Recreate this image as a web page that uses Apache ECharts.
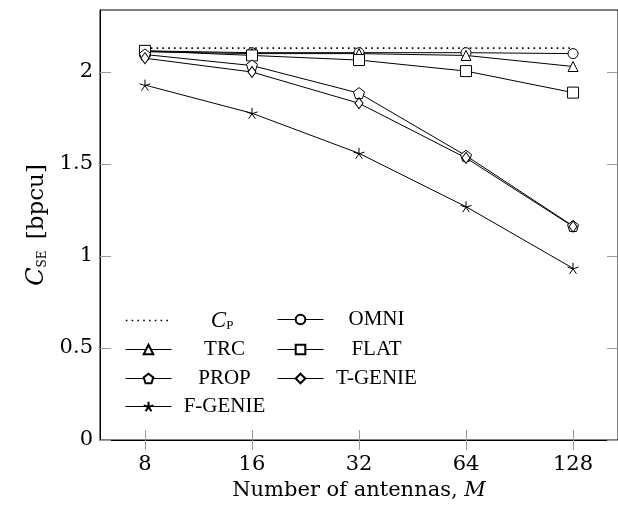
<!DOCTYPE html>
<html>
<head>
<meta charset="utf-8">
<script src="https://cdn.jsdelivr.net/npm/echarts@6/dist/echarts.min.js"></script>
<style>
  html, body { margin: 0; padding: 0; background: #fff; }
  #chart { width: 618px; height: 506px; }
</style>
</head>
<body>
<div id="chart"></div>
<script>
// antenna counts (x axis, log2 spaced)
const antennas = [8, 16, 32, 64, 128];
const yTicks = [0, 0.5, 1, 1.5, 2];

// C_SE values
const cp     = [2.13, 2.13, 2.13, 2.13, 2.13];
const omni   = [2.115, 2.105, 2.105, 2.105, 2.10];
const trc    = [2.11, 2.10, 2.10, 2.09, 2.03];
const flat   = [2.115, 2.09, 2.065, 2.005, 1.888];
const prop   = [2.095, 2.035, 1.885, 1.545, 1.163];
const tgenie = [2.075, 2.0, 1.83, 1.533, 1.16];
const fgenie = [1.929, 1.776, 1.558, 1.268, 0.933];

const xPos = antennas.map(m => Math.log2(m));
const pts = vals => vals.map((v, i) => [xPos[i], v]);

const FONT = "Liberation Serif";    // legend (Times-like)
const AFONT = "DejaVu Serif";       // axes (wide, CM-like)
const PENTAGON = "path://M0,-1L0.951,-0.309L0.588,0.809L-0.588,0.809L-0.951,-0.309Z";
const STAR = "path://M0,0L0,-1M0,0L0.951,-0.309M0,0L0.588,0.809M0,0L-0.588,0.809M0,0L-0.951,-0.309";

function mkLine(name, vals, symbol, size) {
  return {
    name: name,
    type: "line",
    data: pts(vals),
    symbol: symbol,
    symbolSize: size,
    showSymbol: true,
    lineStyle: { color: "#000", width: 1 },
    itemStyle: { color: symbol === STAR ? "#000" : "#fff", borderColor: "#000", borderWidth: 1 },
    animation: false
  };
}

const series = [
  {
    name: "CP", type: "line", data: pts(cp), symbol: "circle", showSymbol: false,
    lineStyle: { color: "#000", width: 1.6, type: [1.6, 4.2] },
    itemStyle: { color: "rgba(0,0,0,0)", borderWidth: 0 }, animation: false
  },
  mkLine("OMNI", omni, "circle", 10),
  mkLine("TRC", trc, "triangle", 10),
  mkLine("FLAT", flat, "rect", 11),
  mkLine("PROP", prop, PENTAGON, 11),
  mkLine("T-GENIE", tgenie, "diamond", [8, 11]),
  mkLine("F-GENIE", fgenie, STAR, 11)
];

const legendRich = {
  t: { width: 96, align: "center", fontFamily: FONT, fontSize: 21, color: "#000" },
  pad: { width: 34 },
  i: { fontFamily: FONT, fontStyle: "italic", fontSize: 23, color: "#000" },
  s: { fontFamily: FONT, fontSize: 13, color: "#000", padding: [11, 0, 0, 0] }
};
function legendItem(name, left, top) {
  return {
    show: true, data: [name], left: left, top: top,
    itemWidth: 46, itemHeight: 12, itemGap: 0, padding: 0,
    selectedMode: false,
    lineStyle: { width: name === "CP" ? 1.6 : 1 },
    formatter: n => n === "CP" ? "{pad|}{i|C}{s|P}" : "{t|" + n + "}",
    textStyle: { rich: legendRich, fontFamily: FONT, fontSize: 21, color: "#000" }
  };
}

const tickStyle = { color: "#999" };

const chart = echarts.init(document.getElementById("chart"));
chart.setOption({
  backgroundColor: "#fff",
  animation: false,
  grid: { left: 100, top: 10, right: -2, bottom: 66, show: true, borderColor: "#000", borderWidth: 1 },
  legend: [
    legendItem("CP", 125, 309),
    legendItem("OMNI", 277, 309),
    legendItem("TRC", 125, 339),
    legendItem("FLAT", 277, 339),
    legendItem("PROP", 125, 368),
    legendItem("T-GENIE", 277, 368),
    legendItem("F-GENIE", 125, 396)
  ],
  xAxis: [
    {
      type: "value", min: 2.58, max: 7.42, position: "bottom",
      name: "Number of antennas, {i|M}", nameLocation: "middle", nameGap: 38,
      nameTextStyle: {
        fontFamily: AFONT, fontSize: 21, color: "#000",
        rich: { i: { fontFamily: AFONT, fontStyle: "italic", fontSize: 21, color: "#000" } }
      },
      axisLine: { show: true, lineStyle: { color: "#000", width: 1 } },
      axisTick: { show: true, inside: true, length: 10, customValues: xPos, lineStyle: tickStyle },
      axisLabel: {
        customValues: xPos, margin: 14, fontFamily: AFONT, fontSize: 21, color: "#000",
        formatter: v => String(Math.round(Math.pow(2, v)))
      },
      splitLine: { show: false }
    },
    {
      type: "value", min: 2.58, max: 7.42, position: "top",
      axisLine: { show: false },
      axisTick: { show: true, inside: true, length: 10, customValues: xPos, lineStyle: tickStyle },
      axisLabel: { show: false },
      splitLine: { show: false }
    }
  ],
  yAxis: [
    {
      type: "value", min: 0, max: 2.337, position: "left",
      name: "{i|C}{s|SE} [bpcu]", nameLocation: "middle", nameGap: 45, nameRotate: 90,
      nameTextStyle: {
        fontFamily: AFONT, fontSize: 23, color: "#000",
        rich: {
          i: { fontFamily: AFONT, fontStyle: "italic", fontSize: 24, color: "#000" },
          s: { fontFamily: AFONT, fontSize: 12, color: "#000", padding: [12, 4, 0, 0] }
        }
      },
      axisLine: { show: true, lineStyle: { color: "#000", width: 1 } },
      axisTick: { show: true, inside: true, length: 11, customValues: yTicks, lineStyle: tickStyle },
      axisLabel: { customValues: yTicks, margin: 7, fontFamily: AFONT, fontSize: 21, color: "#000" },
      splitLine: { show: false }
    },
    {
      type: "value", min: 0, max: 2.337, position: "right",
      axisLine: { show: false },
      axisTick: { show: true, inside: true, length: 11, customValues: yTicks, lineStyle: tickStyle },
      axisLabel: { show: false },
      splitLine: { show: false }
    }
  ],
  series: series
});
</script>
</body>
</html>
